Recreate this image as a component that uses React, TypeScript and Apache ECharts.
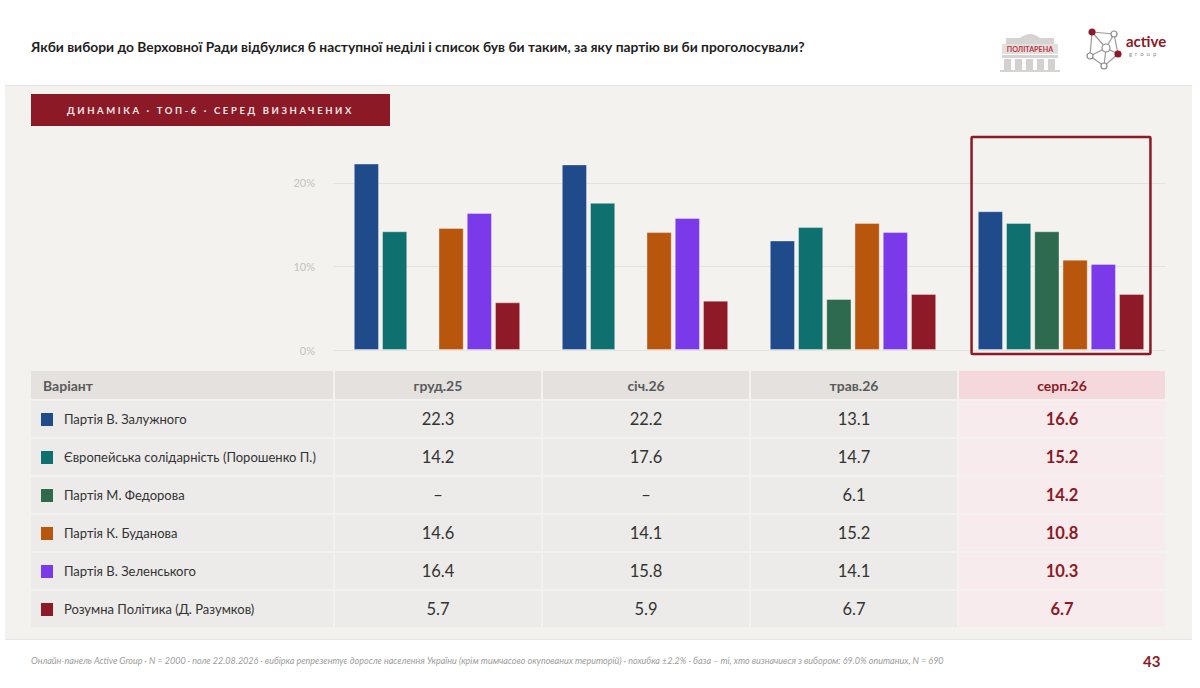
import React, { useEffect, useRef } from "react";
import * as echarts from "echarts";

const TITLE =
  "Якби вибори до Верховної Ради відбулися б наступної неділі і список був би таким, за яку партію ви би проголосували?";
const BADGE = "ДИНАМІКА · ТОП-6 · СЕРЕД ВИЗНАЧЕНИХ";
const FOOTNOTE =
  "Онлайн-панель Active Group · N = 2000 · поле 22.08.2026 · вибірка репрезентує доросле населення України (крім тимчасово окупованих територій) · похибка ±2.2% · база – ті, хто визначився з вибором: 69.0% опитаних, N = 690";
const PAGE = "43";
const TABLE_HEAD = "Варіант";

const waves = ["груд.25", "січ.26", "трав.26", "серп.26"];
const parties = [
  "Партія В. Залужного",
  "Європейська солідарність (Порошенко П.)",
  "Партія М. Федорова",
  "Партія К. Буданова",
  "Партія В. Зеленського",
  "Розумна Політика (Д. Разумков)",
];
const partyColors = ["#1f4b8a", "#0f7070", "#2d6a4e", "#b8560d", "#7a3aea", "#8d1a26"];

const zaluzhny = [22.3, 22.2, 13.1, 16.6];
const poroshenko = [14.2, 17.6, 14.7, 15.2];
const fedorov = [null, null, 6.1, 14.2];
const budanov = [14.6, 14.1, 15.2, 10.8];
const zelensky = [16.4, 15.8, 14.1, 10.3];
const razumkov = [5.7, 5.9, 6.7, 6.7];
const seriesValues: (number | null)[][] = [zaluzhny, poroshenko, fedorov, budanov, zelensky, razumkov];

const yTicks = [0, 10, 20];
const yMax = 25;
const highlightIndex = 3;

const FONT = "Lato, 'Noto Sans', sans-serif";
const RED = "#8b1a26";

// layout
const GRID_LEFT = 333;
const GRID_RIGHT = 1165;
const BAND = (GRID_RIGHT - GRID_LEFT) / waves.length;
const CHART_TOP = 130;
const CHART_H = 240;

const fmt = (v: number | null) => (v === null ? "–" : v.toFixed(1));

function BarChart() {
  const ref = useRef<HTMLDivElement>(null);
  useEffect(() => {
    if (!ref.current) return;
    const chart = echarts.init(ref.current, null, { renderer: "svg" });
    chart.setOption({
      animation: false,
      grid: { left: GRID_LEFT, right: 1200 - GRID_RIGHT, top: 11, bottom: 20 },
      xAxis: {
        type: "category",
        data: waves,
        axisLine: { show: false },
        axisTick: { show: false },
        axisLabel: { show: false },
      },
      yAxis: {
        type: "value",
        min: 0,
        max: yMax,
        interval: 10,
        splitLine: { show: false },
        axisLine: { show: false },
        axisTick: { show: false },
        axisLabel: {
          formatter: (v: number) => (yTicks.includes(v) ? v + "%" : ""),
          color: "#c4c1bd",
          fontSize: 11,
          fontFamily: FONT,
          margin: 18,
        },
      },
      series: parties.map((p, i) => ({
        type: "bar",
        name: p,
        data: seriesValues[i],
        barGap: "12%",
        barCategoryGap: "20%",
        itemStyle: {
          color: partyColors[i],
          borderColor: "rgba(255,255,255,0.35)",
          borderWidth: 1,
        },
        markLine:
          i === 0
            ? {
                silent: true,
                symbol: "none",
                z: 0,
                label: { show: false },
                lineStyle: { color: "#e5e2de", width: 1, type: "solid" },
                data: yTicks.map((v) => ({ yAxis: v })),
              }
            : undefined,
      })),
    });
    const cA = chart.convertToPixel({ xAxisIndex: 0 }, waves[highlightIndex - 1]) as number;
    const cB = chart.convertToPixel({ xAxisIndex: 0 }, waves[highlightIndex]) as number;
    const band = cB - cA;
    const yTop = chart.convertToPixel({ yAxisIndex: 0 }, yMax) as number;
    const y0 = chart.convertToPixel({ yAxisIndex: 0 }, 0) as number;
    chart.setOption({
      graphic: [
        {
          type: "rect",
          z: 100,
          shape: { x: cB - band * 0.43, y: yTop - 4, width: band * 0.86, height: y0 - yTop + 8, r: 1 },
          style: { fill: "none", stroke: RED, lineWidth: 2.5 },
        },
      ],
    });
    return () => chart.dispose();
  }, []);
  return (
    <div
      ref={ref}
      style={{ position: "absolute", left: 0, top: CHART_TOP, width: 1200, height: CHART_H }}
    />
  );
}

function PolitarenaLogo() {
  return (
    <svg style={{ position: "absolute", left: 998, top: 28 }} width={64} height={44} viewBox="0 0 64 44">
      <path d="M22 10 Q32 2 42 10 Z" fill="#d6d4d2" />
      <rect x="8" y="10" width="48" height="6" fill="#d6d4d2" />
      <rect x="4" y="16" width="56" height="10" fill="#e2e0de" />
      <rect x="4" y="27" width="56" height="3" fill="#d6d4d2" />
      {[6, 17, 28, 39, 50].map((x) => (
        <rect key={x} x={x} y="31" width="7" height="11" fill="#d3d1cf" />
      ))}
      <rect x="2" y="42" width="60" height="2" fill="#d6d4d2" />
      <text x="32" y="24" textAnchor="middle" fontFamily={FONT} fontSize="7.2" fontWeight="700" fill="#c0323c">
        ПОЛІТАРЕНА
      </text>
    </svg>
  );
}

function ActiveLogo() {
  const nodes = [
    [8, 4],
    [30, 6],
    [22, 20],
    [6, 28],
    [34, 26],
    [20, 38],
  ];
  const edges = [
    [0, 1], [0, 2], [1, 2], [1, 4], [2, 3], [2, 4], [2, 5], [3, 5], [4, 5], [0, 3],
  ];
  return (
    <svg style={{ position: "absolute", left: 1084, top: 28 }} width={90} height={44} viewBox="0 0 90 44">
      {edges.map(([a, b], i) => (
        <line key={i} x1={nodes[a][0]} y1={nodes[a][1]} x2={nodes[b][0]} y2={nodes[b][1]} stroke="#9a9a9a" strokeWidth="1.2" />
      ))}
      {nodes.map(([x, y], i) => (
        <circle
          key={i}
          cx={x}
          cy={y}
          r={i === 2 ? 4 : 3}
          fill={i === 0 || i === 4 ? "#8b1a26" : "#fff"}
          stroke={i === 0 || i === 4 ? "#8b1a26" : "#8a8a8a"}
          strokeWidth="1.2"
        />
      ))}
      <text x="42" y="19" fontFamily={FONT} fontSize="15" fontWeight="700" fill="#8b1a26">
        active
      </text>
      <text x="45" y="28" fontFamily={FONT} fontSize="6" letterSpacing="3" fill="#8a8a8a">
        group
      </text>
    </svg>
  );
}

function DataTable() {
  const headTop = 371;
  const headH = 28;
  const rowTop = 401;
  const rowH = 36;
  const rowPitch = 38;
  const colLeft = (i: number) => (i === 0 ? 31 : GRID_LEFT + (i - 1) * BAND + 2);
  const colWidth = (i: number) => (i === 0 ? GRID_LEFT - 31 : BAND - 2);
  const cells: React.ReactNode[] = [];
  for (let c = 0; c <= waves.length; c++) {
    const hi = c - 1 === highlightIndex;
    cells.push(
      <div
        key={"h" + c}
        style={{
          position: "absolute",
          left: colLeft(c),
          top: headTop,
          width: colWidth(c),
          height: headH,
          background: hi ? "#f4d8dc" : "#e4e1de",
          display: "flex",
          alignItems: "center",
          justifyContent: c === 0 ? "flex-start" : "center",
          paddingLeft: c === 0 ? 12 : 0,
          boxSizing: "border-box",
          fontFamily: FONT,
          fontWeight: 700,
          fontSize: 14,
          color: hi ? RED : "#5a5a5a",
        }}
      >
        {c === 0 ? TABLE_HEAD : waves[c - 1]}
      </div>
    );
  }
  parties.forEach((p, r) => {
    const top = rowTop + r * rowPitch;
    cells.push(
      <div
        key={"l" + r}
        style={{
          position: "absolute",
          left: colLeft(0),
          top,
          width: colWidth(0),
          height: rowH,
          background: "#ecebe9",
          display: "flex",
          alignItems: "center",
          paddingLeft: 10,
          boxSizing: "border-box",
          fontFamily: FONT,
          fontSize: 13,
          color: "#333",
        }}
      >
        <span
          style={{ display: "inline-block", width: 12, height: 13, background: partyColors[r], marginRight: 11 }}
        />
        {p}
      </div>
    );
    waves.forEach((w, c) => {
      const hi = c === highlightIndex;
      cells.push(
        <div
          key={"c" + r + "_" + c}
          style={{
            position: "absolute",
            left: colLeft(c + 1),
            top,
            width: colWidth(c + 1),
            height: rowH,
            background: hi ? "#f8ebed" : "#ecebe9",
            display: "flex",
            alignItems: "center",
            justifyContent: "center",
            fontFamily: FONT,
            fontSize: 16.5,
            fontWeight: hi ? 700 : 400,
            color: hi ? RED : "#333",
          }}
        >
          {fmt(seriesValues[r][c])}
        </div>
      );
    });
  });
  return <>{cells}</>;
}

export default function App() {
  return (
    <div
      style={{
        position: "absolute",
        left: 0,
        top: 0,
        width: 1200,
        height: 688,
        background: "#ffffff",
        overflow: "hidden",
        fontFamily: FONT,
      }}
    >
      <div
        style={{
          position: "absolute",
          left: 31,
          top: 38,
          fontSize: 13.8,
          fontWeight: 700,
          color: "#1e1e1e",
          lineHeight: "17px",
          whiteSpace: "nowrap",
        }}
      >
        {TITLE}
      </div>
      <PolitarenaLogo />
      <ActiveLogo />
      <div
        style={{
          position: "absolute",
          left: 5,
          top: 85,
          width: 1187,
          height: 555,
          background: "#f4f2ef",
          borderTop: "1px solid #e4e2df",
          borderBottom: "1px solid #e8e6e3",
          boxSizing: "border-box",
        }}
      />
      <div
        style={{
          position: "absolute",
          left: 31,
          top: 94,
          width: 359,
          height: 32,
          background: RED,
          color: "#f3e6e8",
          fontSize: 9.5,
          fontWeight: 700,
          letterSpacing: 2.6,
          display: "flex",
          alignItems: "center",
          justifyContent: "center",
          whiteSpace: "nowrap",
        }}
      >
        {BADGE}
      </div>
      <BarChart />
      <DataTable />
      <div
        style={{
          position: "absolute",
          left: 31,
          top: 655,
          fontSize: 9,
          fontStyle: "italic",
          color: "#9c9c9c",
          whiteSpace: "nowrap",
          lineHeight: "12px",
        }}
      >
        {FOOTNOTE}
      </div>
      <div
        style={{
          position: "absolute",
          left: 1143,
          top: 652,
          fontSize: 15,
          fontWeight: 700,
          color: RED,
          lineHeight: "18px",
        }}
      >
        {PAGE}
      </div>
    </div>
  );
}
